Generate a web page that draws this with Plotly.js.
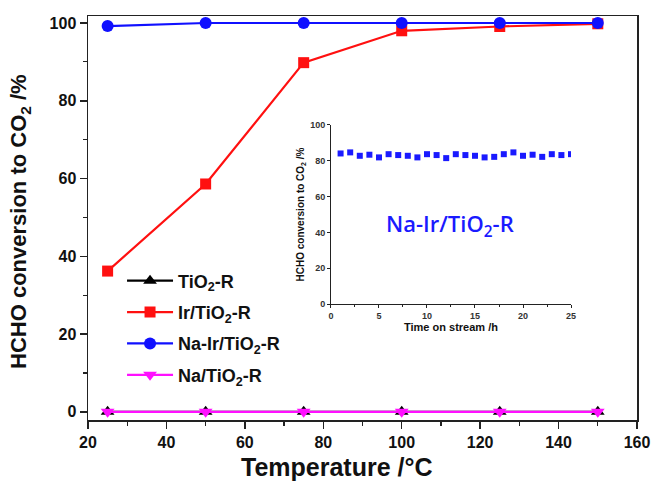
<!DOCTYPE html>
<html>
<head>
<meta charset="utf-8">
<script src="https://cdn.plot.ly/plotly-3.0.1.min.js"></script>
<style>
  html, body { margin: 0; padding: 0; background: #fff; }
  #chart { width: 654px; height: 488px; }
</style>
</head>
<body>
<div id="chart"></div>
<script>
// Light-off curves: HCHO conversion versus reaction temperature
const temperature = [25, 50, 75, 100, 125, 150];
const tio2R     = [0, 0, 0, 0, 0, 0];
const irTio2R   = [36.2, 58.6, 89.8, 98.0, 99.1, 99.8];
const naIrTio2R = [99.2, 100, 100, 100, 100, 100];
const naTio2R   = [0, 0, 0, 0, 0, 0];

// Stability test of Na-Ir/TiO2-R (inset)
const streamTime = [1, 2, 3, 4, 5, 6, 7, 8, 9, 10, 11, 12, 13, 14, 15, 16, 17, 18, 19, 20, 21, 22, 23, 24, 25];
const streamConversion = [84.1, 84.7, 82.8, 83.4, 81.9, 83.7, 83.2, 82.8, 81.9, 83.7, 83.2, 81.5, 83.7, 83.2,
                          82.8, 81.9, 82.2, 83.7, 84.7, 82.8, 83.4, 82.2, 83.7, 83.2, 83.7];

// Tick labels
const tempTicks = [20, 40, 60, 80, 100, 120, 140, 160];
const convTicks = [0, 20, 40, 60, 80, 100];
const timeTicks = [0, 5, 10, 15, 20, 25];

const seriesNames = ['TiO<sub>2</sub>-R', 'Ir/TiO<sub>2</sub>-R', 'Na-Ir/TiO<sub>2</sub>-R', 'Na/TiO<sub>2</sub>-R'];
const insetLabel = 'Na-Ir/TiO<sub>2</sub>-R';
const xTitle = 'Temperature /\u00b0C';
const yTitle = 'HCHO conversion to CO<sub>2</sub> /%';
const insetXTitle = 'Time on stream /h';

const FONT = 'Liberation Sans, Arial, sans-serif';
const AXIS_COLOR = '#222';
const bold = v => '<b>' + v + '</b>';

function curve(y, name, color, symbol, size, group) {
  return {
    x: temperature, y: y, name: bold(name), type: 'scatter', mode: 'lines+markers',
    legendgroup: group,
    line: { color: color, width: 2.2 },
    marker: { color: color, symbol: symbol, size: size, line: { width: 0 } },
    xaxis: 'x', yaxis: 'y'
  };
}

const traces = [
  curve(tio2R, seriesNames[0], '#000000', 'triangle-up', 12, 'a'),
  curve(irTio2R, seriesNames[1], '#ff1010', 'square', 11, 'b'),
  curve(naIrTio2R, seriesNames[2], '#1010ff', 'circle', 12, 'c'),
  curve(naTio2R, seriesNames[3], '#ff10ff', 'triangle-down', 12, 'd'),
  {
    x: streamTime, y: streamConversion, type: 'scatter', mode: 'markers',
    showlegend: false,
    marker: { color: '#1a1aff', symbol: 'square', size: 6 },
    xaxis: 'x2', yaxis: 'y2'
  }
];

const tickFont = { family: FONT, size: 16, color: '#111', weight: 700 };
const smallTickFont = { family: FONT, size: 9, color: '#333', weight: 700 };

const layout = {
  width: 654, height: 488,
  margin: { l: 88, r: 17, t: 16, b: 68 },
  paper_bgcolor: '#ffffff', plot_bgcolor: '#ffffff',
  font: { family: FONT, color: '#111' },
  showlegend: true,
  legend: {
    x: 0.062, y: 0.39, xanchor: 'left', yanchor: 'top',
    bgcolor: 'rgba(0,0,0,0)',
    font: { family: FONT, size: 18, color: '#111' },
    traceorder: 'grouped', tracegroupgap: 5,
    itemwidth: 46
  },
  xaxis: {
    domain: [0, 1],
    range: [20, 160],
    tickmode: 'array', tickvals: tempTicks, ticktext: tempTicks.map(bold),
    showline: true, mirror: true, linecolor: AXIS_COLOR, linewidth: 1.5,
    ticks: 'outside', ticklen: 7, tickwidth: 1.5, tickcolor: AXIS_COLOR,
    minor: { dtick: 10, tick0: 0, ticks: 'outside', ticklen: 4, tickwidth: 1.2, tickcolor: AXIS_COLOR },
    showgrid: false, zeroline: false,
    tickfont: tickFont
  },
  yaxis: {
    domain: [0, 1],
    range: [-2.1, 101.8],
    tickmode: 'array', tickvals: convTicks, ticktext: convTicks.map(bold),
    showline: true, mirror: true, linecolor: AXIS_COLOR, linewidth: 1.5,
    ticks: 'outside', ticklen: 7, tickwidth: 1.5, tickcolor: AXIS_COLOR,
    minor: { dtick: 10, tick0: 0, ticks: 'outside', ticklen: 4, tickwidth: 1.2, tickcolor: AXIS_COLOR },
    showgrid: false, zeroline: false,
    tickfont: tickFont
  },
  xaxis2: {
    domain: [0.4426, 0.8798], anchor: 'y2',
    range: [0, 25],
    tickmode: 'array', tickvals: timeTicks, ticktext: timeTicks.map(bold),
    showline: true, linecolor: AXIS_COLOR, linewidth: 1,
    ticks: 'outside', ticklen: 3, tickwidth: 1, tickcolor: AXIS_COLOR,
    minor: { dtick: 2.5, tick0: 0, ticks: 'outside', ticklen: 2, tickwidth: 1, tickcolor: AXIS_COLOR },
    showgrid: false, zeroline: false,
    tickfont: smallTickFont,
    title: { text: bold(insetXTitle), font: { family: FONT, size: 11, color: '#111' }, standoff: 1 }
  },
  yaxis2: {
    domain: [0.2871, 0.7302], anchor: 'x2',
    range: [0, 100],
    tickmode: 'array', tickvals: convTicks, ticktext: convTicks.map(bold),
    showline: true, linecolor: AXIS_COLOR, linewidth: 1,
    ticks: 'outside', ticklen: 3, tickwidth: 1, tickcolor: AXIS_COLOR,
    showgrid: false, zeroline: false,
    tickfont: smallTickFont,
    title: { text: bold(yTitle), font: { family: FONT, size: 10, color: '#111' }, standoff: 3 }
  },
  annotations: [
    {
      xref: 'x2', yref: 'y2', x: 12.4, y: 44, xanchor: 'center', yanchor: 'middle',
      text: insetLabel, showarrow: false,
      font: { family: 'Open Sans, sans-serif', size: 22, color: '#1a1aff', weight: 600 }
    },
    {
      xref: 'paper', yref: 'paper', x: 0.4536, y: -0.1163, xanchor: 'center', yanchor: 'middle',
      text: bold(xTitle), showarrow: false,
      font: { family: FONT, size: 25, color: '#111' }
    },
    {
      xref: 'paper', yref: 'paper', x: -0.1239, y: 0.4926, xanchor: 'center', yanchor: 'middle',
      text: bold(yTitle), showarrow: false, textangle: -90,
      font: { family: FONT, size: 22, color: '#111' }
    }
  ]
};

Plotly.newPlot('chart', traces, layout, { displayModeBar: false, staticPlot: true });
</script>
</body>
</html>
